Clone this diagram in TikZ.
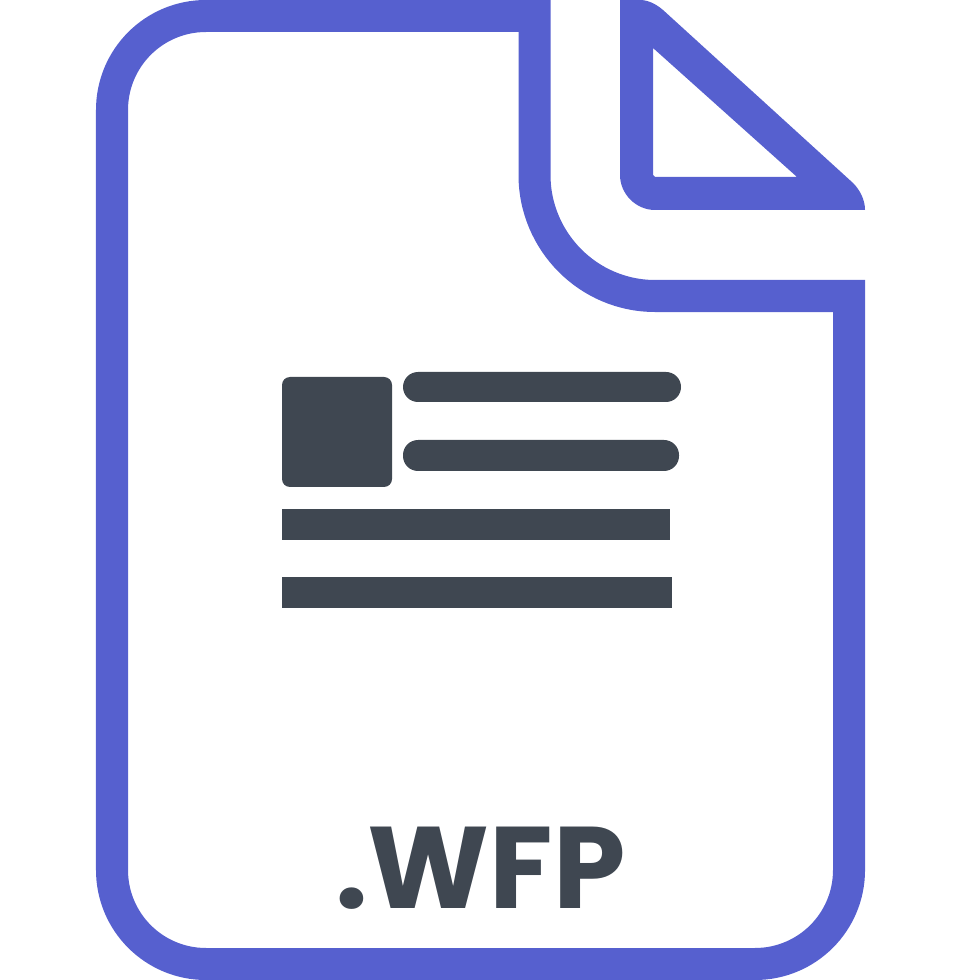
\documentclass[tikz,border=0pt]{standalone}
\usepackage{fontspec}
\usepackage{xcolor}
\newfontfamily\labelfont[Scale=1]{Poppins}
\definecolor{pageblue}{HTML}{5660CF}
\definecolor{inkgrey}{HTML}{3F4751}
\tikzset{
    pageline/.style={draw=pageblue,line width=0.32cm,miter limit=10},
    inkbar/.style={fill=inkgrey},
    inkpill/.style={fill=inkgrey,rounded corners=0.15cm},
    inkblock/.style={fill=inkgrey,rounded corners=0.08cm},
}

\begin{document}
\begin{tikzpicture}[x=0.01cm,y=-0.01cm]
    \useasboundingbox (0,0) rectangle (961,980);

    \draw[pageline] (206,16) -- (534.5,16) -- (534.5,175)
        .. controls (534.5,241.5) and (588.5,296) .. (655,296)
        -- (849,296) -- (849,870)
        .. controls (849,922) and (807,964) .. (755,964)
        -- (206,964)
        .. controls (154,964) and (112,922) .. (112,870)
        -- (112,110)
        .. controls (112,58) and (154,16) .. (206,16) -- cycle;

    \fill[pageblue,even odd rule] (620,0) -- (640,0)
        .. controls (648,0) and (656,4) .. (663,10)
        -- (853,183)
        .. controls (860,190) and (865,200) .. (865,210)
        -- (655,210)
        .. controls (636,210) and (620,194) .. (620,175) -- cycle
        (653,48) -- (797,177) -- (655,177) -- (653,175) -- cycle;

    \fill[inkblock] (282,377) rectangle (392,487);
    \fill[inkpill] (403,372) rectangle (681,402);
    \fill[inkpill] (403,440) rectangle (679,471);
    \fill[inkbar] (282,509) rectangle (670,540);
    \fill[inkbar] (282,577) rectangle (672,608);

    \node[anchor=base,inner sep=0,text=inkgrey] (ext) at (480.5,908)
        {\labelfont\bfseries\fontsize{33}{33}\selectfont .WFP};
\end{tikzpicture}
\end{document}
